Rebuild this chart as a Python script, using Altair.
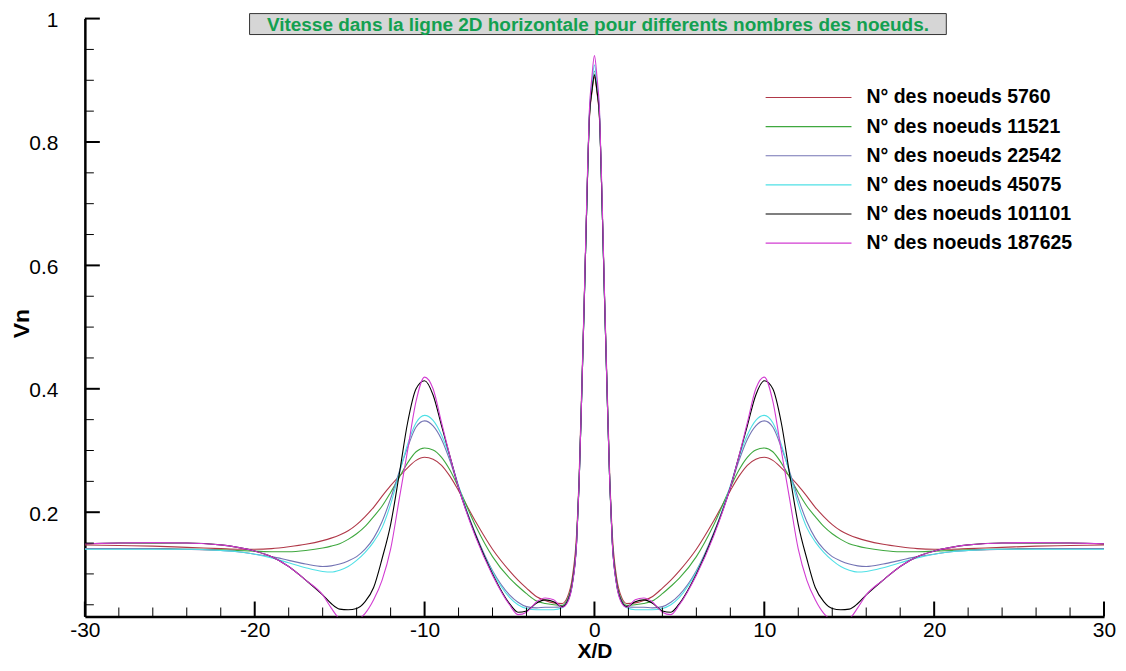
import altair as alt
import pandas as pd

# ---------------- data ----------------
x_pos = [-30, -28, -26, -24, -22, -21, -20, -19, -18, -17, -16, -15.5, -15, -14.5, -14, -13.5,
         -13, -12.5, -12, -11.5, -11, -10.5, -10, -9.5, -9, -8.5, -8, -7, -6, -5, -4.5, -4,
         -3.4, -2.9, -2.4, -1.9, -1.6, -1.3, -1.05, -0.9, -0.75, -0.6, -0.45, -0.3, -0.15,
         0,
         0.15, 0.3, 0.45, 0.6, 0.75, 0.9, 1.05, 1.3, 1.6, 1.9, 2.4, 2.9, 3.4, 4.0, 4.5, 5,
         6, 7, 8, 8.5, 9, 9.5, 10, 10.5, 11, 11.5, 12, 12.5, 13, 13.5, 14, 14.5, 15, 15.5,
         16, 17, 18, 19, 20, 21, 22, 24, 26, 28, 30]

v_5760 = [0.147, 0.146, 0.145, 0.143, 0.141, 0.14, 0.14, 0.141, 0.144, 0.148, 0.154, 0.158,
          0.163, 0.17, 0.18, 0.193, 0.208, 0.226, 0.243, 0.258, 0.272, 0.284, 0.289, 0.286,
          0.276, 0.258, 0.235, 0.185, 0.14, 0.105, 0.09, 0.077, 0.063, 0.057, 0.053, 0.052,
          0.062, 0.095, 0.165, 0.26, 0.40, 0.545, 0.70, 0.835, 0.88,
          0.905,
          0.88, 0.835, 0.70, 0.545, 0.40, 0.26, 0.165, 0.095, 0.062, 0.052, 0.053, 0.057,
          0.063, 0.077, 0.09, 0.105, 0.14, 0.185, 0.235, 0.258, 0.276, 0.286, 0.289, 0.284,
          0.272, 0.258, 0.243, 0.226, 0.208, 0.193, 0.18, 0.17, 0.163, 0.158, 0.154, 0.148,
          0.144, 0.141, 0.14, 0.14, 0.141, 0.143, 0.145, 0.146, 0.147]

v_11521 = [0.141, 0.141, 0.141, 0.14, 0.139, 0.138, 0.137, 0.136, 0.136, 0.138, 0.142, 0.145,
           0.149, 0.156, 0.165, 0.177, 0.193, 0.21, 0.232, 0.256, 0.28, 0.298, 0.304, 0.301,
           0.289, 0.268, 0.24, 0.178, 0.128, 0.093, 0.08, 0.068, 0.056, 0.052, 0.05, 0.049,
           0.058, 0.088, 0.155, 0.25, 0.39, 0.54, 0.70, 0.84, 0.885,
           0.91,
           0.885, 0.84, 0.70, 0.54, 0.39, 0.25, 0.155, 0.088, 0.058, 0.049, 0.05, 0.052,
           0.056, 0.068, 0.08, 0.093, 0.128, 0.178, 0.24, 0.268, 0.289, 0.301, 0.304, 0.298,
           0.28, 0.256, 0.232, 0.21, 0.193, 0.177, 0.165, 0.156, 0.149, 0.145, 0.142, 0.138,
           0.136, 0.136, 0.137, 0.138, 0.139, 0.14, 0.141, 0.141, 0.141]

v_22542 = [0.141, 0.141, 0.141, 0.14, 0.138, 0.136, 0.132, 0.128, 0.122, 0.116, 0.112, 0.113,
           0.116, 0.121, 0.128, 0.14, 0.158, 0.185, 0.222, 0.265, 0.305, 0.338, 0.348, 0.34,
           0.318, 0.283, 0.24, 0.165, 0.105, 0.066, 0.054, 0.047, 0.045, 0.046, 0.046, 0.047,
           0.056, 0.085, 0.152, 0.25, 0.39, 0.54, 0.70, 0.842, 0.89,
           0.915,
           0.89, 0.842, 0.70, 0.54, 0.39, 0.25, 0.152, 0.085, 0.056, 0.047, 0.046, 0.046,
           0.045, 0.047, 0.054, 0.066, 0.105, 0.165, 0.24, 0.283, 0.318, 0.34, 0.348, 0.338,
           0.305, 0.265, 0.222, 0.185, 0.158, 0.14, 0.128, 0.121, 0.116, 0.113, 0.112, 0.116,
           0.122, 0.128, 0.132, 0.136, 0.138, 0.14, 0.141, 0.141, 0.141]

v_45075 = [0.14, 0.14, 0.14, 0.14, 0.138, 0.136, 0.132, 0.126, 0.118, 0.11, 0.104, 0.103,
           0.106, 0.112, 0.122, 0.135, 0.152, 0.175, 0.213, 0.262, 0.31, 0.345, 0.357, 0.349,
           0.325, 0.288, 0.243, 0.163, 0.103, 0.062, 0.05, 0.044, 0.042, 0.042, 0.042, 0.045,
           0.054, 0.083, 0.15, 0.25, 0.39, 0.54, 0.70, 0.845, 0.895,
           0.925,
           0.895, 0.845, 0.70, 0.54, 0.39, 0.25, 0.15, 0.083, 0.054, 0.045, 0.042, 0.042,
           0.042, 0.044, 0.05, 0.062, 0.103, 0.163, 0.243, 0.288, 0.325, 0.349, 0.357, 0.345,
           0.31, 0.262, 0.213, 0.175, 0.152, 0.135, 0.122, 0.112, 0.106, 0.103, 0.104, 0.11,
           0.118, 0.126, 0.132, 0.136, 0.138, 0.14, 0.14, 0.14, 0.14]

v_101101 = [0.149, 0.15, 0.15, 0.15, 0.147, 0.143, 0.137, 0.128, 0.112, 0.09, 0.066, 0.052,
            0.043, 0.042, 0.044, 0.055, 0.078, 0.125, 0.18, 0.26, 0.345, 0.40, 0.413, 0.39,
            0.34, 0.29, 0.24, 0.163, 0.1, 0.052, 0.038, 0.04, 0.053, 0.058, 0.055, 0.047,
            0.055, 0.085, 0.152, 0.25, 0.39, 0.54, 0.70, 0.838, 0.883,
            0.908,
            0.883, 0.838, 0.70, 0.54, 0.39, 0.25, 0.152, 0.085, 0.055, 0.047, 0.055, 0.058,
            0.053, 0.04, 0.038, 0.052, 0.1, 0.163, 0.24, 0.29, 0.34, 0.39, 0.413, 0.40,
            0.345, 0.26, 0.18, 0.125, 0.078, 0.055, 0.044, 0.042, 0.043, 0.052, 0.066, 0.09,
            0.112, 0.128, 0.137, 0.143, 0.147, 0.15, 0.15, 0.15, 0.149]

v_187625 = [0.149, 0.15, 0.151, 0.15, 0.147, 0.143, 0.137, 0.128, 0.112, 0.09, 0.066, 0.045,
            0.027, 0.022, 0.025, 0.036, 0.058, 0.09, 0.14, 0.22, 0.30, 0.38, 0.419, 0.40,
            0.345, 0.29, 0.24, 0.16, 0.098, 0.05, 0.034, 0.038, 0.055, 0.061, 0.058, 0.046,
            0.053, 0.083, 0.15, 0.25, 0.39, 0.545, 0.71, 0.85, 0.905,
            0.94,
            0.905, 0.85, 0.71, 0.545, 0.39, 0.25, 0.15, 0.083, 0.053, 0.046, 0.058, 0.061,
            0.055, 0.038, 0.034, 0.05, 0.098, 0.16, 0.24, 0.29, 0.345, 0.40, 0.419, 0.38,
            0.30, 0.22, 0.14, 0.09, 0.058, 0.036, 0.025, 0.022, 0.027, 0.045, 0.066, 0.09,
            0.112, 0.128, 0.137, 0.143, 0.147, 0.15, 0.151, 0.15, 0.149]

series_names = ["N° des noeuds 5760", "N° des noeuds 11521", "N° des noeuds 22542",
                "N° des noeuds 45075", "N° des noeuds 101101", "N° des noeuds 187625"]
series_values = [v_5760, v_11521, v_22542, v_45075, v_101101, v_187625]
series_colors = ["#B03848", "#3FA83F", "#7474B4", "#4FE0E6", "#000000", "#D23CD2"]

x_major = [-30, -20, -10, 0, 10, 20, 30]
x_minor = [-28, -26, -24, -22, -18, -16, -14, -12, -8, -6, -4, -2,
           2, 4, 6, 8, 12, 14, 16, 18, 22, 24, 26, 28]
y_major = [0.2, 0.4, 0.6, 0.8, 1.0]
y_minor = [0.05, 0.1, 0.15, 0.25, 0.3, 0.35, 0.45, 0.5, 0.55, 0.65, 0.7, 0.75, 0.85, 0.9, 0.95]

title_text = "Vitesse dans la ligne 2D horizontale pour differents nombres des noeuds."

# ---------------- build ----------------
rows = []
for name, vals in zip(series_names, series_values):
    for xv, yv in zip(x_pos, vals):
        rows.append({"x": xv, "v": yv, "series": name})
df = pd.DataFrame(rows)

W, H = 1021, 599
FONT = "Liberation Sans"

xs = alt.Scale(domain=[-30, 30], nice=False, zero=False)
ys = alt.Scale(domain=[0.031, 1.0], nice=False, zero=False)

lines = alt.Chart(df).mark_line(clip=True, strokeWidth=1.1, interpolate="monotone").encode(
    x=alt.X("x:Q", scale=xs, title="X/D",
            axis=alt.Axis(values=x_major, ticks=False, grid=False, labelPadding=3,
                          labelFlush=False, labelExpr="toString(datum.value)",
                          labelFontSize=21, labelFont=FONT, labelColor="black",
                          domainColor="black", domainWidth=2.5,
                          titleFont=FONT, titleFontSize=21, titleFontWeight="bold",
                          titleColor="black", titlePadding=0)),
    y=alt.Y("v:Q", scale=ys, title="Vn",
            axis=alt.Axis(values=y_major, format="~g", ticks=False, grid=False,
                          labelPadding=27, labelFontSize=21, labelFont=FONT, labelOffset=2,
                          labelColor="black", domainColor="black", domainWidth=2.5,
                          titleFont=FONT, titleFontSize=23, titleFontWeight="bold",
                          titleColor="black", titleX=-63, titleY=305,
                          titleAlign="center", titleBaseline="middle", titleAngle=-90)),
    color=alt.Color("series:N", scale=alt.Scale(domain=series_names, range=series_colors),
                    legend=None),
    detail="series:N",
)

xmaj = alt.Chart(pd.DataFrame({"t": x_major})).mark_rule(color="black", strokeWidth=2).encode(
    x=alt.X("t:Q", scale=xs), y=alt.value(H), y2=alt.value(H - 15))
xmin = alt.Chart(pd.DataFrame({"t": x_minor})).mark_rule(color="black", strokeWidth=1).encode(
    x=alt.X("t:Q", scale=xs), y=alt.value(H), y2=alt.value(H - 9))
ymaj = alt.Chart(pd.DataFrame({"t": y_major})).mark_rule(color="black", strokeWidth=2).encode(
    y=alt.Y("t:Q", scale=ys), x=alt.value(0), x2=alt.value(15))
ymin = alt.Chart(pd.DataFrame({"t": y_minor})).mark_rule(color="black", strokeWidth=1).encode(
    y=alt.Y("t:Q", scale=ys), x=alt.value(0), x2=alt.value(9))

# legend (manual, Tecplot style)
leg_layers = []
for i, (name, col) in enumerate(zip(series_names, series_colors)):
    yy = 79 + i * 29.2
    leg_layers.append(alt.Chart(pd.DataFrame({"a": [0]})).mark_rule(color=col, strokeWidth=1.1).encode(
        x=alt.value(682), x2=alt.value(768), y=alt.value(yy)))
    leg_layers.append(alt.Chart(pd.DataFrame({"a": [0]})).mark_text(
        align="left", baseline="middle", font=FONT, fontSize=19.5, fontWeight="bold",
        color="black").encode(x=alt.value(783), y=alt.value(yy), text=alt.value(name)))

# title box
box = alt.Chart(pd.DataFrame({"a": [0]})).mark_rect(
    fill="#D6D6D6", stroke="#333333", strokeWidth=1).encode(
    x=alt.value(165), x2=alt.value(863), y=alt.value(-5), y2=alt.value(16))
ttl = alt.Chart(pd.DataFrame({"a": [0]})).mark_text(
    align="center", baseline="middle", font=FONT, fontSize=19, fontWeight="bold",
    color="#13A050").encode(x=alt.value(514), y=alt.value(6), text=alt.value(title_text))

chart = alt.layer(lines, xmaj, xmin, ymaj, ymin, *leg_layers, box, ttl).properties(
    width=W, height=H,
    autosize=alt.AutoSizeParams(type="none"),
    padding={"left": 77, "top": 10, "right": 14, "bottom": 46},
    background="white",
).configure_view(stroke=None)

chart.save("out.html", embed_options={"renderer": "svg", "actions": False})
